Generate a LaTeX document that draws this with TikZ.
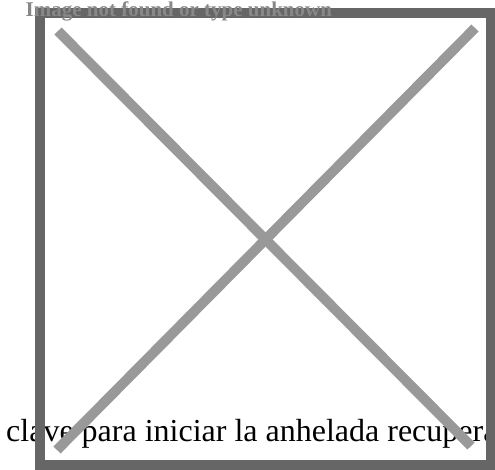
\documentclass[tikz,border=0pt]{standalone}
\usepackage{fontspec}
\setmainfont{Liberation Serif}
\usetikzlibrary{positioning}
\definecolor{framegray}{RGB}{102,102,102}
\definecolor{crossgray}{RGB}{153,153,153}
\definecolor{altgray}{RGB}{136,136,136}
\tikzstyle{caption} = [anchor=base west, inner sep=0pt,
    font=\fontsize{32}{38}\selectfont]
\tikzstyle{alt} = [anchor=base west, inner sep=0pt, text=altgray,
    font=\bfseries\fontsize{21}{25}\selectfont]
\tikzstyle{frame} = [draw=framegray, line width=10pt]
\tikzstyle{cross} = [draw=crossgray, line width=10pt]

\begin{document}
\begin{tikzpicture}[x=1pt, y=-1pt]
  \useasboundingbox (0,0) rectangle (495,470);
  % Place nodes
  \node [caption] (caption) at (6,441) {clave para iniciar la anhelada recupera};

  \coordinate (nw) at (40,13);
  \coordinate (se) at (490.5,465);
  \coordinate (crossnw) at (58,31);
  \coordinate (crossse) at (471,446);
  \coordinate (crossne) at (475,28);
  \coordinate (crosssw) at (57,450);

  %paths
  \path [frame] (nw) rectangle (se);
  \path [cross] (crossnw) -- (crossse);
  \path [cross] (crossne) -- (crosssw);

  \node [alt] (alt) at (25.5,17) {Image not found or type unknown};
\end{tikzpicture}
\end{document}
